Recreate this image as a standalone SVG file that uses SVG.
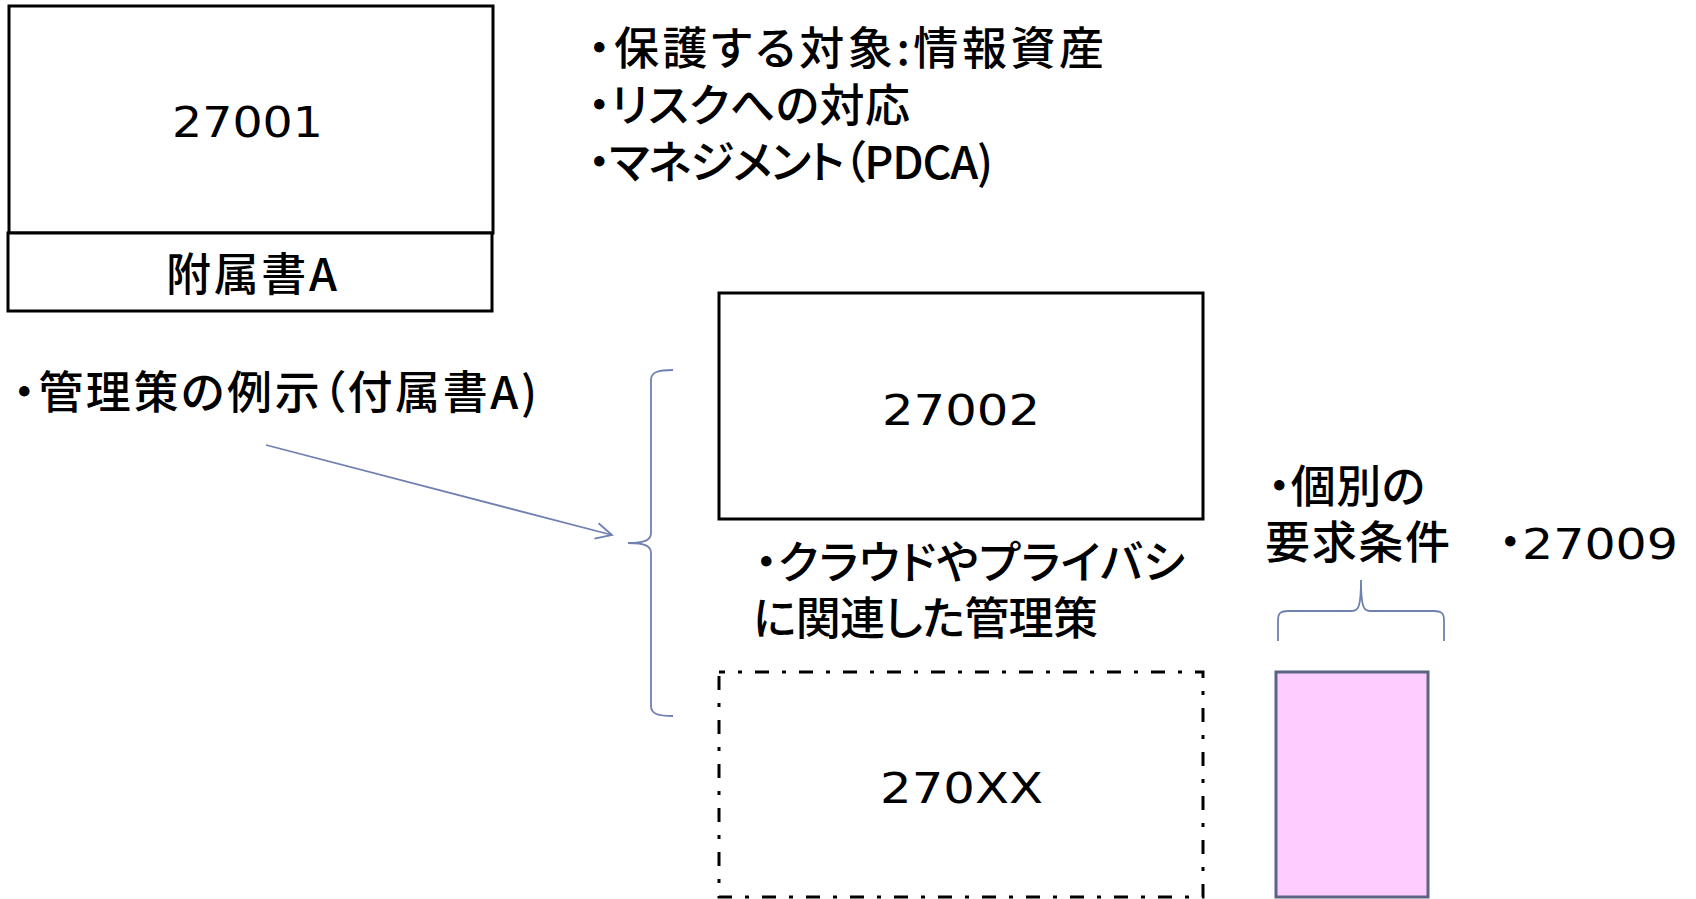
<svg xmlns="http://www.w3.org/2000/svg" width="1696" height="899" viewBox="0 0 1696 899">
<style>
text{font-family:"Noto Sans CJK JP","Noto Sans CJK SC",sans-serif;fill:#000;font-feature-settings:"palt";}
.jp{font-size:45px;font-weight:500;dominant-baseline:central;}
.num{font-family:"DejaVu Sans",sans-serif;font-size:43px;}
.d{font-family:"DejaVu Sans",sans-serif;font-size:43px;}
.box{fill:#fff;stroke:#000;stroke-width:3;}
.dash{fill:none;stroke:#000;stroke-width:3;stroke-dasharray:14 13 4 13;stroke-dashoffset:8;}
.con{fill:none;stroke:#7080b0;stroke-width:1.8;}
</style>
<defs>
<marker id="open" viewBox="0 0 20 20" refX="18" refY="10" markerWidth="20" markerHeight="20" markerUnits="userSpaceOnUse" orient="auto">
<path d="M2,2 L18,10 L2,18" fill="none" stroke="#7080b0" stroke-width="1.8"/>
</marker>
</defs>
<rect width="1696" height="899" fill="#fff"/>
<g id="n27001">
<rect class="box" x="9" y="6" width="484" height="227"/>
<text class="num" x="172" y="137" textLength="151" lengthAdjust="spacingAndGlyphs">27001</text>
</g>
<g id="annexA">
<rect class="box" x="8" y="233" width="484" height="78"/>
<text class="jp" x="166" y="271" textLength="171">附属書A</text>
</g>
<g id="points27001">
<text class="jp" x="588" y="45" textLength="516">・保護する対象:情報資産</text>
<text class="jp" x="588" y="102" textLength="322">・リスクへの対応</text>
<text class="jp" x="588" y="159" textLength="405">・マネジメント（PDCA)</text>
</g>
<g id="controlsNote">
<text class="jp" x="13" y="389" textLength="524">・管理策の例示（付属書A)</text>
</g>
<g id="n27002">
<rect class="box" x="719" y="293" width="484" height="226"/>
<text class="num" x="882" y="425" textLength="158" lengthAdjust="spacingAndGlyphs">27002</text>
</g>
<g id="cloudNote">
<text class="jp" x="755" y="559" textLength="430">・クラウドやプライバシ</text>
<text class="jp" x="753" y="615" textLength="345">に関連した管理策</text>
</g>
<g id="n270XX">
<rect class="dash" x="719" y="672" width="484" height="225"/>
<text class="num" x="880" y="803" textLength="163" lengthAdjust="spacingAndGlyphs">270XX</text>
</g>
<g id="reqNote">
<text class="jp" x="1268" y="483" textLength="157">・個別の</text>
<text class="jp" x="1265" y="539" textLength="185">要求条件</text>
</g>
<g id="n27009">
<text x="1499" y="559" style="font-size:45px;font-weight:500">・<tspan class="d" x="1522" textLength="156" lengthAdjust="spacingAndGlyphs">27009</tspan></text>
</g>
<g id="pinkBox">
<rect x="1276" y="672" width="152" height="225" fill="#ffccff" stroke="#5b6482" stroke-width="3"/>
</g>
<g id="connectors">
<path class="con" d="M266,445 L612,535" marker-end="url(#open)"/>
<path class="con" d="M673,370 C658,370 651,372 651,380 L651,533 C651,540 645,543 628,543 C645,543 651,546 651,553 L651,706 C651,714 658,716 673,716"/>
<path class="con" d="M1278,641 L1278,620 C1278,613 1281,611 1288,611 L1352,611 C1358,611 1361,608 1361,580 C1361,608 1364,611 1370,611 L1434,611 C1441,611 1444,613 1444,620 L1444,641"/>
</g>
</svg>
